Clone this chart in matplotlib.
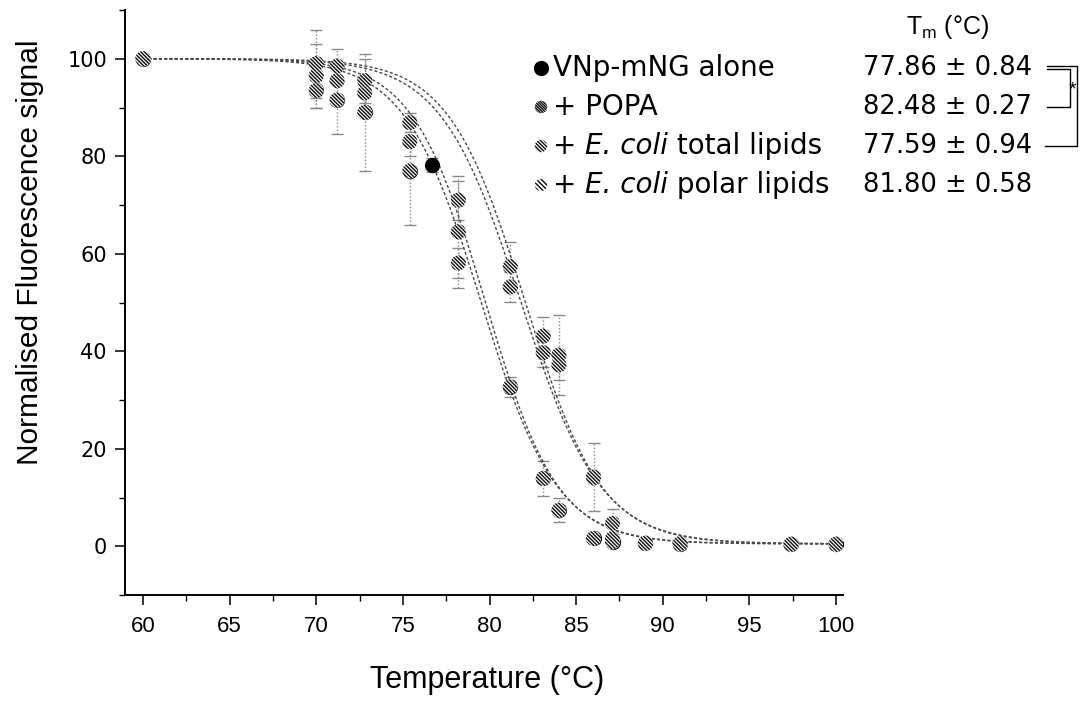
import matplotlib
matplotlib.use('Agg')
import matplotlib.pyplot as plt
import numpy as np
from matplotlib import font_manager as fm
from matplotlib.ticker import MultipleLocator

names = {f.name for f in fm.fontManager.ttflist}
NARROW = 'Liberation Sans Narrow' if 'Liberation Sans Narrow' in names else 'Liberation Sans'
plt.rcParams['font.family'] = ['Liberation Sans', 'DejaVu Sans']
plt.rcParams['hatch.linewidth'] = 1.05

# ---------------- data ----------------
# legend labels as (text, italic) pieces
series_labels = [
    [('VNp-mNG alone', False)],
    [('+ POPA', False)],
    [('+ ', False), ('E. coli', True), (' total lipids', False)],
    [('+ ', False), ('E. coli', True), (' polar lipids', False)],
]
tm_labels = ['77.86 ± 0.84', '82.48 ± 0.27', '77.59 ± 0.94', '81.80 ± 0.58']

temps = [60, 70, 71.2, 72.8, 75.4, 78.2, 81.2, 83.1, 84.0, 86.0, 87.1, 89.0, 91.0, 97.4, 100.0]
temps_alone = [60, 70, 71.2, 72.8, 75.4, 76.7, 81.2, 83.1, 84.0, 86.0, 87.1, 89.0, 91.0, 97.4, 100.0]

alone_y = [100, 93.5, 91.5, 89.0, 77.0, 78.2, 32.7, 13.9, 7.4, 1.6, 0.9, 0.6, 0.5, 0.4, 0.4]
popa_y = [100, 99.0, 98.5, 95.5, 86.9, 71.0, 57.4, 43.1, 39.2, 14.2, 4.7, 0.6, 0.5, 0.4, 0.4]
total_y = [100, 93.5, 91.5, 89.0, 77.0, 58.1, 32.7, 13.9, 7.4, 1.6, 0.9, 0.6, 0.5, 0.4, 0.4]
polar_y = [100, 96.5, 95.5, 93.0, 83.0, 64.5, 53.2, 39.7, 37.2, 14.0, 1.6, 0.6, 0.5, 0.4, 0.4]

alone_err = [0, 0, 0, 0, 0, 1.5, 0, 0, 0, 0, 0, 0, 0, 0, 0]
popa_err = [0, 7.0, 3.5, 4.5, 2.0, 4.0, 5.0, 4.0, 8.2, 7.0, 3.0, 0.3, 0.3, 0.2, 0.2]
total_err = [0, 3.5, 7.0, 12.0, 11.0, 3.0, 2.0, 3.5, 2.5, 1.0, 0.5, 0.3, 0.3, 0.2, 0.2]
polar_err = [0, 6.5, 3.0, 3.0, 3.0, 11.5, 3.0, 3.0, 3.0, 1.0, 1.0, 0.3, 0.3, 0.2, 0.2]

# Boltzmann fit parameters (midpoint, slope) per series
fit_x0 = [79.5, 82.05, 79.75, 81.8]
fit_dx = [2.2, 2.2, 2.1, 2.3]
fit_top = 100.0
fit_bottom = 0.5

# ---------------- figure ----------------
W, H = 1083, 704
fig = plt.figure(figsize=(W / 100, H / 100), dpi=100)
ax = fig.add_axes([125 / W, 109 / H, (843 - 125) / W, (595 - 10) / H])

curve_col = '#4a4a4a'
xx = np.linspace(60, 100, 400)
for x0, dx in zip(fit_x0, fit_dx):
    yy = fit_bottom + (fit_top - fit_bottom) / (1 + np.exp((xx - x0) / dx))
    ax.plot(xx, yy, color=curve_col, lw=1.0, ls=(0, (2.2, 1.6)), zorder=2)

# error bars
for xs, ys, es in [(temps_alone, alone_y, alone_err), (temps, popa_y, popa_err),
                   (temps, total_y, total_err), (temps, polar_y, polar_err)]:
    eb = ax.errorbar(xs, ys, yerr=es, fmt='none', ecolor='#8a8a8a', elinewidth=1.0,
                     capsize=4, capthick=1.0, zorder=1)
    for lc in eb.lines[2]:
        lc.set_linestyle((0, (1, 1.5)))

ms = 120
ax.scatter(temps_alone, alone_y, s=ms, color='black', zorder=3, linewidths=0)
hatch = '\\' * 9
for ys in [total_y, polar_y, popa_y]:
    ax.scatter(temps, ys, s=ms, facecolors='white', edgecolors='#151515',
               linewidths=0, hatch=hatch, zorder=4)

ax.set_xlim(58.96, 100.4)
ax.set_ylim(-10, 110)
ax.xaxis.set_major_locator(MultipleLocator(5))
ax.xaxis.set_minor_locator(MultipleLocator(2.5))
ax.yaxis.set_major_locator(MultipleLocator(20))
ax.yaxis.set_minor_locator(MultipleLocator(10))
for s in ['top', 'right']:
    ax.spines[s].set_visible(False)
for s in ['left', 'bottom']:
    ax.spines[s].set_linewidth(1.4)
ax.tick_params(which='major', direction='out', length=7, width=1.1)
ax.tick_params(which='minor', direction='out', length=4, width=1.0)
ax.tick_params(axis='x', which='major', pad=8)
ax.tick_params(axis='y', which='major', pad=6)
for lab in ax.get_xticklabels():
    lab.set_fontfamily(NARROW)
    lab.set_fontsize(16)
for lab in ax.get_yticklabels():
    lab.set_fontfamily('DejaVu Sans')
    lab.set_fontsize(15)

fig.text(30 / W, 1 - 252 / H, 'Normalised Fluorescence signal', rotation=90,
         ha='center', va='center', fontsize=21.5)
fig.text(487 / W, 1 - 680 / H, 'Temperature (°C)', ha='center', va='center', fontsize=22)

# ---------------- overlay: legend, Tm column, bracket ----------------
ov = fig.add_axes([0, 0, 1, 1])
ov.set_xlim(0, W)
ov.set_ylim(H, 0)
ov.axis('off')
ov.patch.set_alpha(0)

renderer = fig.canvas.get_renderer()
row_y = [68, 107, 146, 185]
ov.scatter([541], [row_y[0]], s=120, color='black', linewidths=0)
leg_hatch = ['\\' * 12, '\\' * 9, '\\' * 7]
for yv, h in zip(row_y[1:], leg_hatch):
    ov.scatter([541], [yv], s=80, facecolors='white', edgecolors='#151515',
               linewidths=0, hatch=h)

for yv, pieces in zip(row_y, series_labels):
    xcur = 553
    for txt, ital in pieces:
        t = ov.text(xcur, yv, txt, ha='left', va='center', fontsize=20,
                    family='DejaVu Sans', style='italic' if ital else 'normal')
        bb = t.get_window_extent(renderer)
        xcur += bb.width
for yv, lab in zip(row_y, tm_labels):
    ov.text(863, yv, lab, ha='left', va='center', fontsize=18.5, family='DejaVu Sans')
ov.text(947, 27, r'T$_\mathregular{m}$ (°C)', ha='center', va='center', fontsize=18)

bk = dict(color='black', lw=1.0)
ov.plot([1047, 1077, 1077, 1045], [row_y[0] - 2, row_y[0] - 2, row_y[2], row_y[2]], **bk)
ov.plot([1047, 1070, 1070, 1047], [row_y[0] + 1, row_y[0] + 1, row_y[1], row_y[1]], **bk)
ov.text(1072, 90, '*', ha='center', va='center', fontsize=14)

fig.savefig('out.png', dpi=100)
